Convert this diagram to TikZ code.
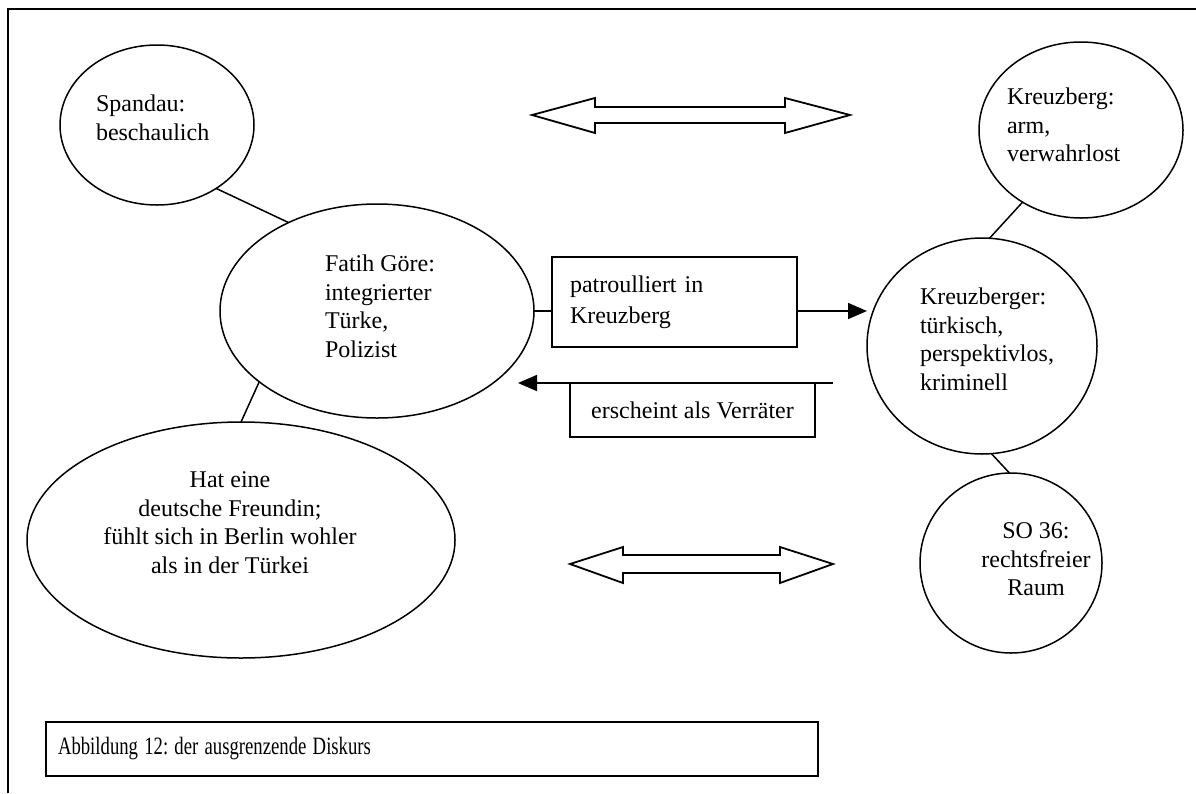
\documentclass[tikz,border=0pt]{standalone}
\usepackage{graphicx}
\usepackage{fontspec}
\setmainfont{Liberation Serif}
\usetikzlibrary{shapes.geometric,arrows.meta}
\frenchspacing

\begin{document}
\begin{tikzpicture}[x=1pt,y=-1pt,
  every node/.style={inner sep=0pt, outer sep=0pt},
  txt/.style={font=\fontsize{24}{28.5}\selectfont, align=left},
  bubble/.style={draw, ellipse, line width=1.5pt},
  frame/.style={line width=2pt},
  box/.style={draw, rectangle, line width=1.5pt},
  link/.style={line width=1.5pt},
  flow/.style={line width=1.6pt, -{Triangle[length=19pt,width=16pt]}},
  hollow/.style={line width=1.8pt, line join=miter},
]
\useasboundingbox (0,0) rectangle (1196,793);

% page frame (left and top edges only)
\draw[frame] (8,793) -- (8,9) -- (1196,9);

% ellipses
\node[bubble, minimum width=194pt, minimum height=160pt] (sp) at (157,125) {};
\node[bubble, minimum width=314pt, minimum height=214pt] (fa) at (377,311) {};
\node[bubble, minimum width=428pt, minimum height=236pt] (ha) at (241,540) {};
\node[bubble, minimum width=204pt, minimum height=176pt] (kb) at (1081,130) {};
\node[bubble, minimum width=230pt, minimum height=216pt] (kr) at (982,346) {};
\node[bubble, minimum width=182pt, minimum height=180pt] (so) at (1011,563) {};

% ellipse texts
\node[txt, anchor=north west] (spt) at (96,95) {Spandau:\\beschaulich};
\node[txt, anchor=north west] (fat) at (325,255) {Fatih Göre:\\integrierter\\Türke,\\Polizist};
\node[txt, align=center, anchor=north] (hat) at (230,472) {Hat eine\\deutsche Freundin;\\fühlt sich in Berlin wohler\\als in der Türkei};
\node[txt, anchor=north west] (kbt) at (1007,88) {Kreuzberg:\\arm,\\verwahrlost};
\node[txt, anchor=north west] (krt) at (920,288) {Kreuzberger:\\türkisch,\\perspektivlos,\\kriminell};
\node[txt, align=center, anchor=north] (sot) at (1036,523) {SO 36:\\rechtsfreier\\Raum};

% relation boxes
\node[box, txt, font=\fontsize{24}{31}\selectfont, text width=209pt, inner xsep=18pt, minimum height=90pt, anchor=north west] (pb) at (552,257) {patroulliert in\\Kreuzberg};
\node[box, txt, minimum width=245pt, minimum height=54pt, anchor=north west] (vb) at (570,383) {erscheint als Verräter};

% caption
\node[box, txt, line width=1.6pt, text width=748pt, inner xsep=12pt, minimum height=54pt, anchor=north west] (cap) at (46,722) {\scalebox{0.78}[1.04]{Abbildung 12: der ausgrenzende Diskurs}};

% connectors
\draw[link] (sp.-47) -- (fa.135);
\draw[link] (fa.211) -- (ha.90);
\draw[link] (kb.231) -- (kr.86);
\draw[link] (kr.275) -- (so.91);
\draw[link] (fa.east) -- (pb.west |- fa.east);
\draw[flow] (pb.east |- fa.east) -- (kr.west |- fa.east);
\coordinate (bs) at (833,383);
\coordinate (be) at (518,383);
\draw[flow] (bs) -- (be);

% hollow double arrows
\draw[hollow] (532,115) -- (595,98) -- (595,107) -- (785,107) -- (785,98) -- (850,115)
  -- (785,133) -- (785,123) -- (595,123) -- (595,133) -- cycle;
\draw[hollow] (570,564) -- (623,547) -- (623,555) -- (780,555) -- (780,547) -- (833,564)
  -- (780,583) -- (780,573) -- (623,573) -- (623,583) -- cycle;
\end{tikzpicture}
\end{document}
